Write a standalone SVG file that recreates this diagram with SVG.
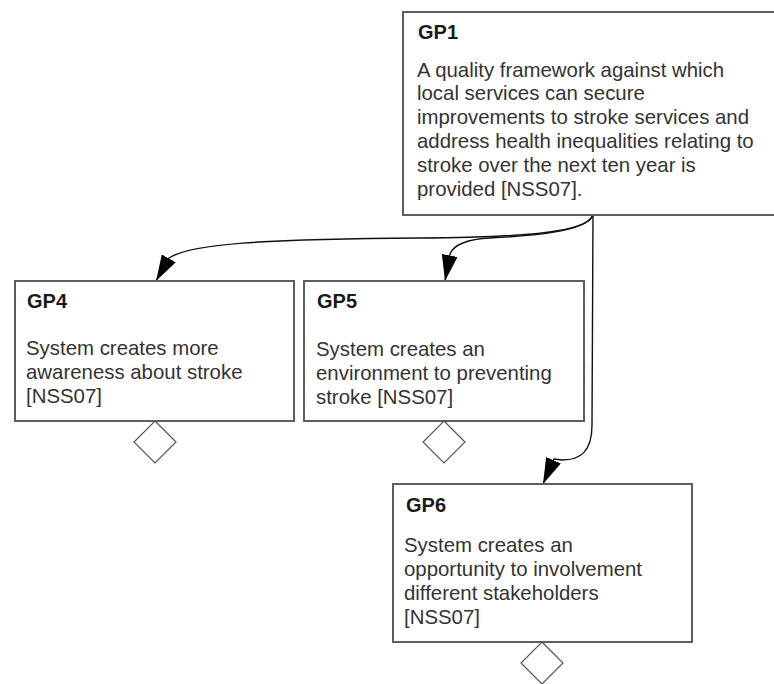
<svg xmlns="http://www.w3.org/2000/svg" width="774" height="684" viewBox="0 0 774 684">
  <defs>
    <style>
      .box { fill: #ffffff; stroke: #5e5e5e; stroke-width: 2; }
      .title { font-family: "Liberation Sans", Arial, sans-serif; font-size: 20px; font-weight: bold; fill: #1a1a1a; }
      .body { font-family: "Liberation Sans", Arial, sans-serif; font-size: 20.4px; fill: #333333; }
      .edge { fill: none; stroke: #111111; stroke-width: 1.4; }
      .decomp { fill: #ffffff; stroke: #555555; stroke-width: 1.2; }
    </style>
    <marker id="arrow" viewBox="0 0 26 16" markerWidth="26" markerHeight="16" refX="26" refY="8" orient="auto" markerUnits="userSpaceOnUse">
      <path d="M0,0 L26,8 L0,16 z" fill="#000000"/>
    </marker>
  </defs>

  <!-- connectors from GP1 to its sub-goals -->
  <g id="connectors">
    <path class="edge" d="M593,215 C588,232 530,237 420,238 C260,239 190,244 169,258 L156,281" marker-end="url(#arrow)"/>
    <path class="edge" d="M593,215 C586,232 530,236 490,238 C468,239 453,245 450,254 L445,281" marker-end="url(#arrow)"/>
    <path class="edge" d="M593,215 L592,425 C592,452 580,460 562,460 L554,459 L543,484" marker-end="url(#arrow)"/>
  </g>

  <g id="GP1">
    <rect class="box" x="403" y="12" width="380" height="203"/>
    <text class="title" x="418" y="39">GP1</text>
    <text class="body" x="417" y="76.5">A quality framework against which</text>
    <text class="body" x="417" y="100.3">local services can secure</text>
    <text class="body" x="417" y="124.1">improvements to stroke services and</text>
    <text class="body" x="417" y="147.9">address health inequalities relating to</text>
    <text class="body" x="417" y="171.7">stroke over the next ten year is</text>
    <text class="body" x="417" y="195.5">provided [NSS07].</text>
  </g>

  <g id="GP4">
    <rect class="box" x="15" y="281" width="279" height="140"/>
    <text class="title" x="27" y="308">GP4</text>
    <text class="body" x="26" y="355">System creates more</text>
    <text class="body" x="26" y="379">awareness about stroke</text>
    <text class="body" x="26" y="403">[NSS07]</text>
    <path class="decomp" d="M155,421 L176,442 L155,463 L134,442 z"/>
  </g>

  <g id="GP5">
    <rect class="box" x="304" y="281" width="280" height="140"/>
    <text class="title" x="317" y="308">GP5</text>
    <text class="body" x="316" y="356">System creates an</text>
    <text class="body" x="316" y="380">environment to preventing</text>
    <text class="body" x="316" y="404">stroke [NSS07]</text>
    <path class="decomp" d="M444,421 L465,442 L444,463 L423,442 z"/>
  </g>

  <g id="GP6">
    <rect class="box" x="393" y="484" width="299" height="158"/>
    <text class="title" x="406" y="512">GP6</text>
    <text class="body" x="404" y="552">System creates an</text>
    <text class="body" x="404" y="576">opportunity to involvement</text>
    <text class="body" x="404" y="600">different stakeholders</text>
    <text class="body" x="404" y="624">[NSS07]</text>
    <path class="decomp" d="M542,642 L563,663 L542,684 L521,663 z"/>
  </g>
</svg>
